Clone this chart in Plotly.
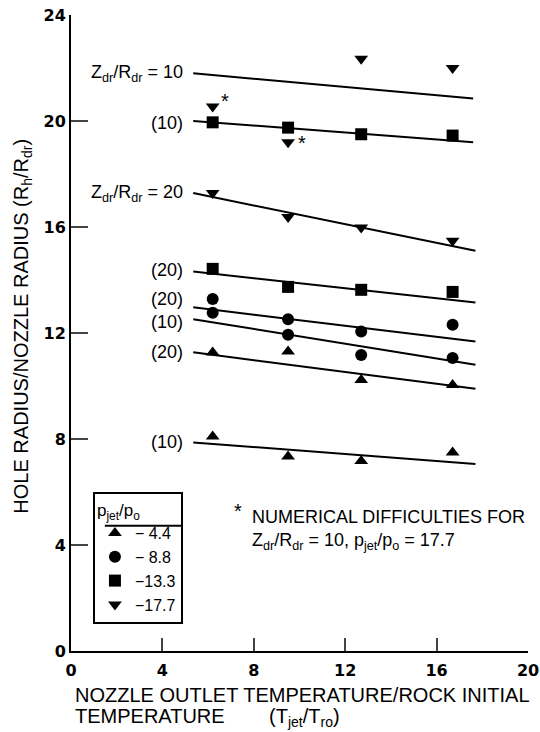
import plotly.graph_objects as go

# ---- data ----
T = [6.2, 9.5, 12.7, 16.7]                      # T_jet / T_ro

# hole radius / nozzle radius, by p_jet/p_o and Z_dr/R_dr
p44_z20 = [11.26, 11.3, 10.23, 10.04]
p44_z10 = [8.09, 7.34, 7.17, 7.49]
p88_z20 = [13.28, 12.52, 12.06, 12.31]
p88_z10 = [12.76, 11.93, 11.17, 11.06]
p133_z20 = [14.42, 13.74, 13.63, 13.55]
p133_z10 = [19.95, 19.75, 19.5, 19.45]
p177_z20 = [17.28, 16.38, 15.98, 15.48]
p177_z10_T = [12.7, 16.7]
p177_z10 = [22.35, 22.0]
p177_star_T = [6.2, 9.5]                         # numerical difficulties
p177_star = [20.55, 19.2]

# fitted lines (start/end)
fit_T = [5.35, 17.7]
fit_T_top = [5.35, 17.6]
fit_p177_z10 = [21.8, 20.85]
fit_p133_z10 = [20.0, 19.2]
fit_p177_z20 = [17.28, 15.1]
fit_p133_z20 = [14.32, 13.15]
fit_p88_z20 = [12.97, 11.68]
fit_p88_z10 = [12.52, 10.8]
fit_p44_z20 = [11.27, 9.9]
fit_p44_z10 = [7.87, 7.06]

legend_names = ["\u2212 4.4", "\u2212 8.8", "\u221213.3", "\u221217.7"]
x_ticks = [0, 4, 8, 12, 16, 20]
y_ticks = [0, 4, 8, 12, 16, 20, 24]

FONT = "Liberation Sans"
TICKFONT = dict(family="DejaVu Sans", size=16, color="black", weight="bold")
fig = go.Figure()

line_style = dict(color="black", width=2)
for xs, ys in [(fit_T_top, fit_p177_z10), (fit_T_top, fit_p133_z10), (fit_T, fit_p177_z20),
               (fit_T, fit_p133_z20), (fit_T, fit_p88_z20), (fit_T, fit_p88_z10),
               (fit_T, fit_p44_z20), (fit_T, fit_p44_z10)]:
    fig.add_trace(go.Scatter(x=xs, y=ys, mode="lines", line=line_style,
                             showlegend=False, hoverinfo="skip"))

def mk(sym, size):
    return dict(symbol=sym, size=size, color="black", line=dict(width=0))

fig.add_trace(go.Scatter(x=T + T, y=p44_z20 + p44_z10, mode="markers",
                         marker=mk("triangle-up", 12), name=legend_names[0]))
fig.add_trace(go.Scatter(x=T + T, y=p88_z20 + p88_z10, mode="markers",
                         marker=mk("circle", 12), name=legend_names[1]))
fig.add_trace(go.Scatter(x=T + T, y=p133_z20 + p133_z10, mode="markers",
                         marker=mk("square", 12), name=legend_names[2]))
fig.add_trace(go.Scatter(x=T + p177_z10_T, y=p177_z20 + p177_z10, mode="markers",
                         marker=mk("triangle-down", 12), name=legend_names[3]))
fig.add_trace(go.Scatter(x=p177_star_T, y=p177_star, mode="markers",
                         marker=mk("triangle-down", 12), showlegend=False))
for xv, yv, dx, dy in zip(p177_star_T, p177_star, [12, 14], [5, -1]):
    fig.add_annotation(x=xv, y=yv, text="*", showarrow=False, xshift=dx, yshift=dy,
                       font=dict(family=FONT, size=20, color="black"))

lab_font = dict(family=FONT, size=18, color="black")
zr = "Z<sub>dr</sub>/R<sub>dr</sub>"
labels = [
    (fit_p177_z10[0], zr + " = 10"),
    (fit_p133_z10[0] - 0.08, "(10)"),
    (fit_p177_z20[0], zr + " = 20"),
    (fit_p133_z20[0] + 0.05, "(20)"),
    (p88_z20[0], "(20)"),
    (fit_p88_z10[0] - 0.1, "(10)"),
    (fit_p44_z20[0], "(20)"),
    (fit_p44_z10[0] + 0.03, "(10)"),
]
for yv, txt in labels:
    fig.add_annotation(x=5.0, y=yv, text=txt, showarrow=False, xanchor="right",
                       yanchor="middle", font=lab_font)

# footnote
fig.add_annotation(x=7.31, y=5.28, text="*", showarrow=False, xanchor="center",
                   yanchor="middle", font=dict(family=FONT, size=20, color="black"))
fig.add_annotation(x=7.83, y=4.57,
                   text="NUMERICAL DIFFICULTIES FOR<br>" + zr +
                        " = 10, p<sub>jet</sub>/p<sub>o</sub> = 17.7",
                   showarrow=False, xanchor="left", yanchor="middle", align="left",
                   font=dict(family=FONT, size=18, color="black"))

# axis titles
fig.add_annotation(xref="paper", yref="paper", x=0.004, y=-0.0692, xanchor="left",
                   yanchor="middle", align="left", showarrow=False,
                   text="NOZZLE OUTLET TEMPERATURE/ROCK INITIAL",
                   font=dict(family=FONT, size=20, color="black"))
fig.add_annotation(xref="paper", yref="paper", x=0.004, y=-0.1046, xanchor="left",
                   yanchor="middle", align="left", showarrow=False,
                   text="TEMPERATURE" + "\u00a0" * 8 + "(T<sub>jet</sub>/T<sub>ro</sub>)",
                   font=dict(family=FONT, size=20, color="black"))
fig.add_annotation(xref="paper", yref="paper", x=-0.108, y=0.511, xanchor="center",
                   yanchor="middle", textangle=-90, showarrow=False,
                   text="HOLE RADIUS/NOZZLE RADIUS (R<sub>h</sub>/R<sub>dr</sub>)",
                   font=dict(family=FONT, size=20, color="black"))

# legend title underline
fig.add_shape(type="line", xref="paper", yref="paper", x0=0.074, x1=0.243,
              y0=0.197, y1=0.197, line=dict(color="black", width=2))

fig.update_layout(
    width=540, height=732,
    margin=dict(l=71, r=12, t=15, b=81, autoexpand=False),
    paper_bgcolor="white", plot_bgcolor="white",
    font=dict(family=FONT, size=17, color="black"),
    legend=dict(x=0.048, y=0.25, xanchor="left", yanchor="top",
                bordercolor="black", borderwidth=2, bgcolor="rgba(0,0,0,0)",
                title=dict(text="p<sub>jet</sub>/p<sub>o</sub>", side="top",
                           font=dict(family=FONT, size=17)),
                font=dict(family=FONT, size=16), itemwidth=30,
                tracegroupgap=0),
    xaxis=dict(range=[0, 20], tickvals=x_ticks, ticks="inside", ticklen=13,
               tickwidth=2, showline=True, linewidth=2, linecolor="black",
               showgrid=False, zeroline=False, tickfont=TICKFONT,
               ticklabelstandoff=4, automargin=False),
    yaxis=dict(range=[0, 24], tickvals=y_ticks, ticks="inside", ticklen=17,
               tickwidth=2, showline=True, linewidth=2, linecolor="black",
               showgrid=False, zeroline=False, tickfont=TICKFONT,
               automargin=False),
)

fig.write_html("out.html", config={"displayModeBar": False},
               post_script="document.body.style.margin='0';document.body.style.overflow='hidden';")
